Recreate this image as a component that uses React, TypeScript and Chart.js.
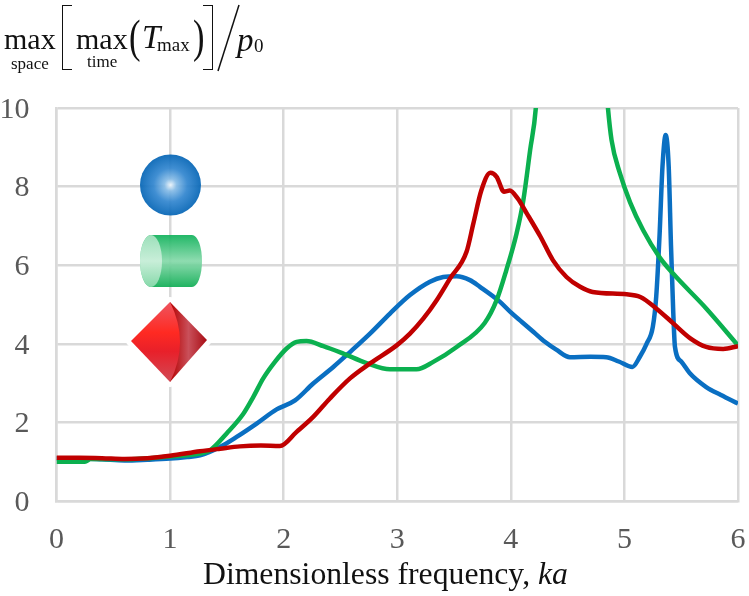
import React, { useEffect, useRef } from "react";
import { Chart, registerables } from "chart.js";

Chart.register(...registerables);

const blueX = [0, 0.2, 0.4, 0.6, 0.8, 1, 1.15, 1.263, 1.44, 1.586, 1.762, 1.938, 2.1, 2.26, 2.437, 2.584, 2.76, 2.936, 3.112, 3.288, 3.405, 3.523, 3.64, 3.728, 3.9, 4, 4.1, 4.2, 4.3, 4.4, 4.52, 4.7, 4.84, 4.95, 5.07, 5.136, 5.195, 5.25, 5.28, 5.31, 5.335, 5.363, 5.39, 5.41, 5.43, 5.445, 5.5, 5.576, 5.72, 5.85, 6];
const blueY = [1.08, 1.08, 1.06, 1.03, 1.05, 1.08, 1.12, 1.16, 1.375, 1.63, 1.97, 2.33, 2.56, 2.99, 3.41, 3.79, 4.26, 4.77, 5.24, 5.58, 5.7, 5.72, 5.62, 5.45, 5.08, 4.8, 4.55, 4.3, 4.05, 3.85, 3.66, 3.67, 3.66, 3.55, 3.41, 3.67, 4, 4.43, 5.2, 6.8, 8.5, 9.31, 8.5, 6.5, 4.8, 3.92, 3.55, 3.25, 2.9, 2.7, 2.48];

const greenX = [0, 0.25, 0.3, 0.6, 1, 1.25, 1.351, 1.498, 1.645, 1.733, 1.82, 1.923, 2.026, 2.114, 2.2, 2.35, 2.525, 2.73, 2.936, 3.17, 3.317, 3.523, 3.77, 3.875, 3.96, 4.05, 4.11, 4.17, 4.22, 4.3, 4.5, 4.75, 4.855, 4.887, 4.96, 5.05, 5.165, 5.31, 5.43, 5.72, 6];
const greenY = [1, 1, 1.07, 1.06, 1.13, 1.2, 1.29, 1.72, 2.22, 2.65, 3.12, 3.54, 3.88, 4.05, 4.07, 3.94, 3.75, 3.51, 3.35, 3.35, 3.54, 3.92, 4.53, 5.11, 5.87, 6.8, 7.65, 8.93, 10, 14, 17, 14, 10, 9.18, 8.34, 7.6, 6.89, 6.2, 5.78, 4.9, 3.96];

const redX = [0, 0.2, 0.4, 0.6, 0.8, 1, 1.263, 1.44, 1.615, 1.8, 1.967, 2.114, 2.26, 2.407, 2.584, 2.76, 2.995, 3.112, 3.229, 3.347, 3.464, 3.61, 3.67, 3.74, 3.82, 3.875, 3.94, 3.99, 4.06, 4.14, 4.26, 4.37, 4.49, 4.61, 4.72, 5.02, 5.14, 5.28, 5.43, 5.58, 5.72, 5.87, 6];
const redY = [1.1, 1.1, 1.09, 1.07, 1.09, 1.15, 1.265, 1.33, 1.39, 1.41, 1.4, 1.76, 2.14, 2.61, 3.12, 3.5, 3.96, 4.26, 4.64, 5.11, 5.66, 6.34, 7.06, 7.9, 8.35, 8.25, 7.87, 7.9, 7.7, 7.32, 6.73, 6.13, 5.7, 5.45, 5.32, 5.26, 5.19, 4.9, 4.52, 4.14, 3.92, 3.87, 3.94];

const xTicksMax = 6;
const yTicksMax = 10;
const axisTitlePrefix = "Dimensionless frequency, ";
const axisTitleItalic = "ka";

const serif = '"Liberation Serif", serif';
const pairs = (xs: number[], ys: number[]) => xs.map((x, i) => ({ x, y: ys[i] }));

const shapesPlugin = {
  id: "shapes",
  afterDatasetsDraw(chart: Chart) {
    const c = chart.ctx;
    c.save();
    c.globalAlpha = 0.93;
    // sphere
    let g = c.createRadialGradient(170.5, 185, 0, 170.5, 185, 30.5);
    g.addColorStop(0, "#eef6fc");
    g.addColorStop(0.2, "#86bbe6");
    g.addColorStop(0.55, "#3286cf");
    g.addColorStop(1, "#0565b5");
    c.fillStyle = g;
    c.beginPath();
    c.arc(170.5, 185, 30.5, 0, Math.PI * 2);
    c.fill();
    // cylinder body
    g = c.createLinearGradient(0, 235, 0, 287);
    g.addColorStop(0, "#12b25c");
    g.addColorStop(0.5, "#86d9aa");
    g.addColorStop(1, "#10ad55");
    c.fillStyle = g;
    c.beginPath();
    c.moveTo(151, 235);
    c.lineTo(192, 235);
    c.ellipse(192, 261, 10, 26, 0, -Math.PI / 2, Math.PI / 2);
    c.lineTo(151, 287);
    c.ellipse(151, 261, 11, 26, 0, Math.PI / 2, Math.PI * 1.5);
    c.closePath();
    c.fill();
    // cylinder end cap
    g = c.createLinearGradient(0, 235, 0, 287);
    g.addColorStop(0, "#a6e3c1");
    g.addColorStop(0.5, "#cdf0dc");
    g.addColorStop(1, "#8fdcb0");
    c.fillStyle = g;
    c.beginPath();
    c.ellipse(151, 261, 11, 26, 0, 0, Math.PI * 2);
    c.fill();
    c.globalAlpha = 1;
    // halo behind cone
    c.strokeStyle = "#ffffff";
    c.lineWidth = 10;
    c.lineJoin = "round";
    c.beginPath();
    c.moveTo(131, 341);
    c.lineTo(170, 302);
    c.lineTo(207, 340);
    c.lineTo(170, 382);
    c.closePath();
    c.stroke();
    // cone back
    g = c.createLinearGradient(170, 0, 207, 0);
    g.addColorStop(0, "#b50000");
    g.addColorStop(0.5, "#c9505a");
    g.addColorStop(1, "#a80c14");
    c.fillStyle = g;
    c.beginPath();
    c.moveTo(170, 302);
    c.lineTo(207, 340);
    c.lineTo(170, 382);
    c.closePath();
    c.fill();
    // cone front
    g = c.createLinearGradient(150, 302, 150, 382);
    g.addColorStop(0, "#ee5560");
    g.addColorStop(0.38, "#ff2a22");
    g.addColorStop(0.62, "#e8202a");
    g.addColorStop(1, "#d24a55");
    c.fillStyle = g;
    c.beginPath();
    c.moveTo(170, 302);
    c.quadraticCurveTo(190, 342, 170, 382);
    c.lineTo(131, 341);
    c.closePath();
    c.fill();
    c.restore();
  },
};

const textStyle = (left: number, top: number, size: number, extra: React.CSSProperties = {}): React.CSSProperties => ({
  position: "absolute",
  left,
  top,
  fontFamily: serif,
  fontSize: size,
  lineHeight: 1,
  color: "#111111",
  whiteSpace: "pre",
  ...extra,
});

export default function App() {
  const ref = useRef<HTMLCanvasElement>(null);

  useEffect(() => {
    document.body.style.margin = "0";
    const line = (label: string, xs: number[], ys: number[], color: string, order: number) => ({
      label,
      data: pairs(xs, ys),
      borderColor: color,
      borderWidth: 4.5,
      pointRadius: 0,
      cubicInterpolationMode: "monotone" as const,
      order,
    });
    const chart = new Chart(ref.current!, {
      type: "line",
      data: {
        datasets: [
          line("Sphere", blueX, blueY, "#0a6fc2", 3),
          line("Cylinder", greenX, greenY, "#0bb04f", 2),
          line("Cone", redX, redY, "#c00000", 1),
        ],
      },
      options: {
        animation: false,
        responsive: false,
        layout: { padding: { top: 108, right: 11, left: 0, bottom: 0 } },
        plugins: { legend: { display: false }, tooltip: { enabled: false } },
        scales: {
          x: {
            type: "linear",
            min: 0,
            max: xTicksMax,
            afterFit: (s: any) => {
              s.height = 95;
              s.paddingRight = 0;
              s.paddingLeft = 0;
            },
            grid: { color: "#d9d9d9", lineWidth: 2.5, drawTicks: false },
            border: { color: "#d9d9d9", width: 2.5 },
            ticks: {
              stepSize: 1,
              padding: 21,
              maxRotation: 0,
              color: "#595959",
              font: { family: serif, size: 30 },
            },
          },
          y: {
            min: 0,
            max: yTicksMax,
            afterFit: (s: any) => {
              s.width = 56.5;
              s.paddingTop = 0;
              s.paddingBottom = 0;
            },
            grid: { color: "#d9d9d9", lineWidth: 2.5, drawTicks: false },
            border: { color: "#d9d9d9", width: 2.5 },
            ticks: {
              stepSize: 2,
              padding: 27,
              labelOffset: 2,
              color: "#595959",
              font: { family: serif, size: 30 },
            },
          },
        },
      },
      plugins: [shapesPlugin],
    });
    return () => chart.destroy();
  }, []);

  return (
    <div style={{ position: "relative", width: 749, height: 596, background: "#fff", overflow: "hidden" }}>
      <canvas ref={ref} width={749} height={596} style={{ display: "block" }} />
      <span style={textStyle(4, 24, 30)}>max</span>
      <span style={textStyle(11, 55, 17)}>space</span>
      <div style={{ position: "absolute", left: 62, top: 5, width: 9, height: 63, borderLeft: "1.5px solid #111", borderTop: "1.5px solid #111", borderBottom: "1.5px solid #111" }} />
      <span style={textStyle(76, 24, 30)}>max</span>
      <span style={textStyle(87, 53, 17)}>time</span>
      <span style={textStyle(129, 14, 46, { transform: "scaleX(0.75)", transformOrigin: "left" })}>(</span>
      <span style={textStyle(142, 21, 33, { fontStyle: "italic" })}>T</span>
      <span style={textStyle(157, 35, 19)}>max</span>
      <span style={textStyle(193, 14, 46, { transform: "scaleX(0.75)", transformOrigin: "left" })}>)</span>
      <div style={{ position: "absolute", left: 203, top: 5, width: 9, height: 63, borderRight: "1.5px solid #111", borderTop: "1.5px solid #111", borderBottom: "1.5px solid #111" }} />
      <svg style={{ position: "absolute", left: 0, top: 0 }} width={260} height={80}>
        <line x1={239} y1={5} x2={218} y2={71} stroke="#111" strokeWidth={1.5} />
      </svg>
      <span style={textStyle(237, 24, 33, { fontStyle: "italic" })}>p</span>
      <span style={textStyle(254, 36, 19)}>0</span>
      <span style={textStyle(203, 558, 31.7)}>
        {axisTitlePrefix}
        <i>{axisTitleItalic}</i>
      </span>
    </div>
  );
}
